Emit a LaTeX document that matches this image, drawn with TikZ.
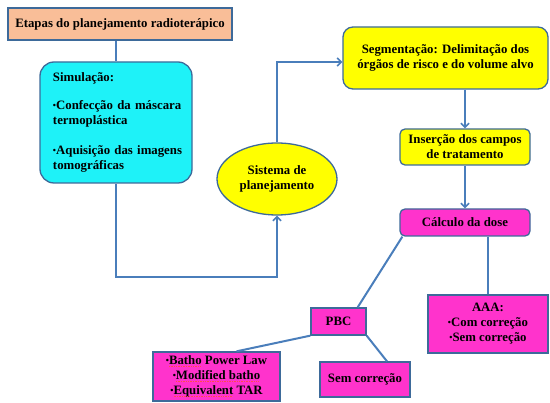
\documentclass[tikz,border=0pt]{standalone}
\usepackage{fontspec}
\setmainfont{Liberation Serif}
\usetikzlibrary{shapes.geometric,arrows.meta}
\definecolor{lineblue}{HTML}{4A7EBB}
\definecolor{edgeblue}{HTML}{3D6A9A}
\definecolor{salmon}{HTML}{F9BE98}
\definecolor{cyanfill}{HTML}{1EF2F8}
\definecolor{yellowfill}{HTML}{FFFF00}
\definecolor{magentafill}{HTML}{FF33CC}
\newcommand\bul{\raisebox{0.25ex}{\fontsize{9}{9}\selectfont•}}
\newcommand\squig[1]{\setbox0\hbox{#1}\rlap{\copy0}\raisebox{-2.2pt}{\hbox to \wd0{\color{red!70!white}\leaders\hbox{\rule{0.7pt}{0.7pt}\hskip1pt}\hfill}}}
\begin{document}
\begin{tikzpicture}[x=1pt,y=-1pt,
  box/.style={draw=edgeblue,line width=1.3pt,inner sep=2pt,align=center,
    font=\fontsize{12.8}{15}\selectfont\bfseries},
  conn/.style={draw=lineblue,line width=2pt},
  arr/.style={conn,-{Straight Barb[length=4pt,width=8pt,line width=1.6pt]}}]
\useasboundingbox (0,0) rectangle (550,403);
\node[box,fill=salmon,minimum width=224pt,minimum height=32pt] (title) at (120,24) {Etapas do planejamento radioterápico};
\node[box,fill=cyanfill,rounded corners=14pt,minimum width=152pt,minimum height=121pt,align=left,text width=144pt] (sim) at (116,122.5)
  {\hspace*{9pt}Simulação:\\[13pt]\hspace*{9pt}\bul Confecção da máscara\\\hspace*{9pt}termoplástica\\[15pt]\hspace*{9pt}\bul Aquisição das imagens\\\hspace*{9pt}tomográficas};
\node[box,fill=yellowfill,ellipse,minimum width=120pt,minimum height=72pt,inner sep=0pt] (ell) at (277,179) {Sistema de\\planejamento};
\node[box,fill=yellowfill,rounded corners=10pt,minimum width=205pt,minimum height=62pt] (seg) at (445.5,58) {Segmentação: Delimitação dos\\órgãos de risco e do volume alvo};
\node[box,fill=yellowfill,rounded corners=5pt,minimum width=130pt,minimum height=36pt] (ins) at (465,147) {Inserção dos campos\\de tratamento};
\node[box,fill=magentafill,rounded corners=5pt,minimum width=130pt,minimum height=27pt] (calc) at (465,222.5) {Cálculo da dose};
\node[box,fill=magentafill,minimum width=55pt,minimum height=27pt] (pbc) at (338.5,321.5) {PBC};
\node[box,fill=magentafill,minimum width=120pt,minimum height=58pt] (aaa) at (488,324) {AAA:\\\bul Com correção\\\bul Sem correção};
\node[box,fill=magentafill,minimum width=90pt,minimum height=35pt] (sem) at (365,379.5) {Sem correção};
\node[box,fill=magentafill,minimum width=127pt,minimum height=49pt] (batho) at (216.5,376.5) {\bul\squig{Batho} Power Law\\\bul\squig{Modified batho}\\\bul\squig{Equivalent} TAR};
\coordinate (c1) at (277,277);
\draw[conn] (sim.north) -- (sim.north |- title.south);
\draw[arr] (sim.south) |- (c1) -- (ell.south);
\draw[arr] (ell.north) |- ([yshift=-4pt]seg.west);
\draw[arr] (ins.north |- seg.south) -- (ins.north);
\draw[arr] (ins.south) -- (calc.north);
\draw[conn] ([xshift=3pt]calc.south west) -- ([xshift=-9pt]pbc.north east);
\draw[conn] (aaa.north |- calc.south) -- (aaa.north);
\draw[conn] (pbc.south west) -- ([xshift=20pt]batho.north);
\draw[conn] (pbc.south east) -- ([xshift=22pt]sem.north);
\end{tikzpicture}
\end{document}
